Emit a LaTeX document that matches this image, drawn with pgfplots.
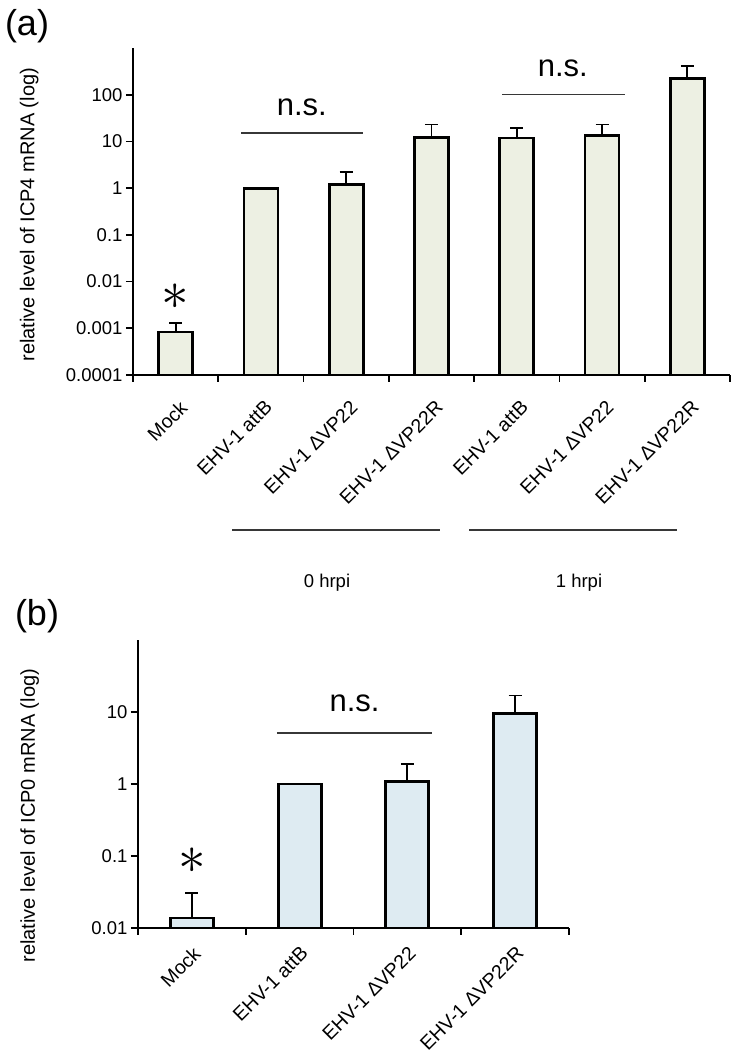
\documentclass[border=0pt]{standalone}
\usepackage{pgfplots}
\pgfplotsset{compat=1.18}
\usepackage{graphicx}
\usepackage{fontspec}
\setmainfont{Liberation Sans}
\definecolor{fillA}{RGB}{237,240,227}
\definecolor{fillB}{RGB}{222,235,242}
\definecolor{nsgray}{RGB}{55,55,55}
\pgfplotstableread{
x y e
0 0.00083 0.00047
1 1.0 0
2 1.2 1.0
3 12.2 10.8
4 11.8 7.8
5 13.5 9.5
6 223 195
}\dataA
\pgfplotstableread{
x y e
0 0.0138 0.0172
1 1.0 0
2 1.07 0.83
3 9.6 7.3
}\dataB
\begin{document}
\begin{tikzpicture}
\useasboundingbox (0pt,0pt) rectangle (739pt,1060pt);
% panel (a)
\node[font=\fontsize{36}{38}\selectfont] at (27pt,1034pt) {(a)};
\begin{axis}[ymode=log, log origin y=infty,
  scale only axis, anchor=south west, at={(133pt,685pt)}, width=597pt, height=327pt,
  axis lines=left, axis line style={-, line width=1.8pt},
  tick align=outside, major tick length=7pt,
  tick style={black, line width=1.8pt},
  yminorticks=false,
  tick label style={font=\fontsize{18.5}{20}\selectfont},
  clip=false,
  xmin=-0.5, xmax=6.5, ymin=0.0001, ymax=1000,
  ytick={0.0001,0.001,0.01,0.1,1,10,100},
  yticklabels={0.0001,0.001,0.01,0.1,1,10,100},
  xtick={-0.5,0.5,1.5,2.5,3.5,4.5,5.5,6.5},
  xticklabels={},
  extra x ticks={0,1,2,3,4,5,6},
  extra x tick labels={Mock,EHV-1 attB,EHV-1 ΔVP22,EHV-1 ΔVP22R,EHV-1 attB,EHV-1 ΔVP22,EHV-1 ΔVP22R},
  extra x tick style={major tick length=0pt},
  xticklabel style={font=\fontsize{19.5}{21}\selectfont, xshift=3pt, yshift=-24pt, rotate=45, anchor=north east, inner sep=0pt},
  ylabel={relative level of ICP4 mRNA (log)},
  ylabel style={font=\fontsize{20}{22}\selectfont, at={(rel axis cs:-0.174,0.49)}, anchor=center},
]
\addplot[ybar, bar width=34pt, fill=fillA, draw=black, line width=2.8pt,
  error bars/.cd, y dir=plus, y explicit,
  error bar style={line width=1.8pt, black},
  error mark options={rotate=90, mark size=6.5pt, line width=1.8pt, black}]
  table[x=x, y=y, y error=e] {\dataA};
\node at (axis cs:0,0.0047) {\scalebox{5.5}{$\ast$}};
\draw[nsgray, line width=1.5pt] (axis cs:0.77,15) -- (axis cs:2.2,15);
\node[font=\fontsize{31}{33}\selectfont] at (axis cs:1.48,53) {n.s.};
\draw[nsgray, line width=1.5pt] (axis cs:3.83,100) -- (axis cs:5.27,100);
\node[font=\fontsize{31}{33}\selectfont] at (axis cs:4.54,363) {n.s.};
\end{axis}
\draw[nsgray, line width=1.5pt] (232pt,530pt) -- (440pt,530pt);
\draw[nsgray, line width=1.5pt] (469pt,530pt) -- (677pt,530pt);
\node[font=\fontsize{18.5}{20}\selectfont] at (327pt,477pt) {0 hrpi};
\node[font=\fontsize{18.5}{20}\selectfont] at (579pt,477pt) {1 hrpi};
% panel (b)
\node[font=\fontsize{36}{38}\selectfont] at (37pt,444pt) {(b)};
\begin{axis}[ymode=log, log origin y=infty,
  scale only axis, anchor=south west, at={(138pt,132pt)}, width=431pt, height=288pt,
  axis lines=left, axis line style={-, line width=1.8pt},
  tick align=outside, major tick length=7pt,
  tick style={black, line width=1.8pt},
  yminorticks=false,
  tick label style={font=\fontsize{18.5}{20}\selectfont},
  clip=false,
  xmin=-0.5, xmax=3.5, ymin=0.01, ymax=100,
  ytick={0.01,0.1,1,10},
  yticklabels={0.01,0.1,1,10},
  xtick={-0.5,0.5,1.5,2.5,3.5},
  xticklabels={},
  extra x ticks={0,1,2,3},
  extra x tick labels={Mock,EHV-1 attB,EHV-1 ΔVP22,EHV-1 ΔVP22R},
  extra x tick style={major tick length=0pt},
  xticklabel style={font=\fontsize{19.5}{21}\selectfont, xshift=0pt, yshift=-17pt, rotate=45, anchor=north east, inner sep=0pt},
  ylabel={relative level of ICP0 mRNA (log)},
  ylabel style={font=\fontsize{20}{22}\selectfont, at={(rel axis cs:-0.251,0.39)}, anchor=center},
]
\addplot[ybar, bar width=43pt, fill=fillB, draw=black, line width=2.8pt,
  error bars/.cd, y dir=plus, y explicit,
  error bar style={line width=1.8pt, black},
  error mark options={rotate=90, mark size=6.5pt, line width=1.8pt, black}]
  table[x=x, y=y, y error=e] {\dataB};
\node at (axis cs:0,0.085) {\scalebox{5.5}{$\ast$}};
\draw[nsgray, line width=1.5pt] (axis cs:0.79,5.1) -- (axis cs:2.23,5.1);
\node[font=\fontsize{31}{33}\selectfont] at (axis cs:1.51,13) {n.s.};
\end{axis}
\end{tikzpicture}
\end{document}
